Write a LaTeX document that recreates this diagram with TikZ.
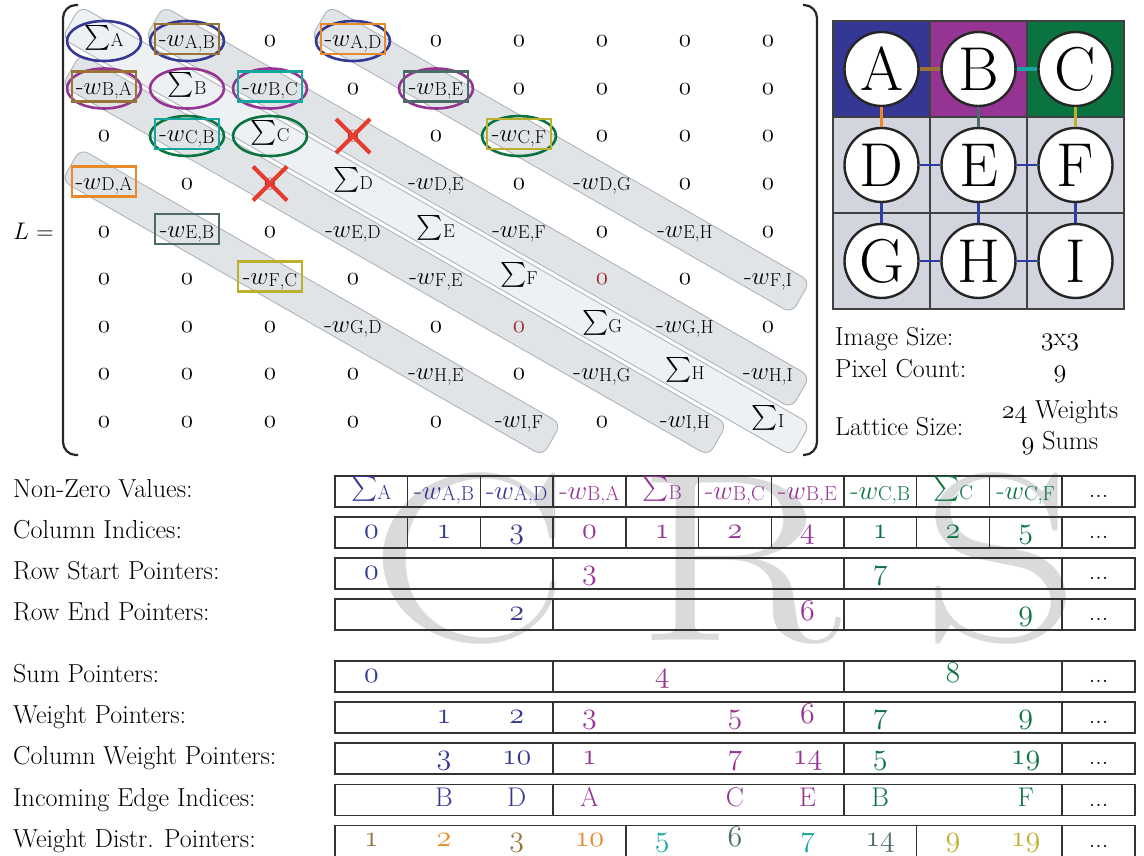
\documentclass[tikz,border=0pt]{standalone}
\usepackage{fix-cm}
\usepackage{amsmath}
\usepackage{graphicx}
\usepackage{xcolor}
\usetikzlibrary{calc,backgrounds}
\definecolor{blueA}{HTML}{343894}
\definecolor{purpB}{HTML}{963493}
\definecolor{greenC}{HTML}{0B7340}
\definecolor{cellgray}{HTML}{D2D5DD}
\definecolor{brownE}{HTML}{9A7436}
\definecolor{orangeE}{HTML}{E8892B}
\definecolor{tealE}{HTML}{17A69E}
\definecolor{slateE}{HTML}{4E6B6B}
\definecolor{oliveE}{HTML}{BDB02F}
\definecolor{blueE}{HTML}{2E3DA6}
\definecolor{xred}{HTML}{E63B2E}
\definecolor{zred}{HTML}{A32B2A}
\definecolor{bandD}{HTML}{E1E4E7}
\definecolor{bandL}{HTML}{EEF1F3}
\definecolor{bandedge}{HTML}{B0B4B9}
\definecolor{wmgray}{HTML}{D9DADC}
\newcommand{\os}[1]{{\usefont{OML}{cmm}{m}{it}#1}}
\newcommand{\zo}{\os{0}}
\newcommand{\zr}{{\color{zred}\os{0}}}
\newcommand{\sm}[1]{\raisebox{3pt}{$\sum$}\scalebox{.75}{#1}}
\newcommand{\wt}[2]{-$w$\raisebox{-1.5pt}{\scalebox{.75}{#1,#2}}}

\begin{document}
\begin{tikzpicture}[x=1pt, y=-1pt,
  ent/.style={anchor=base, inner sep=0pt, font=\fontsize{25}{30}\selectfont},
  band/.style={draw=bandedge, line width=0.9pt, rounded corners=9pt,
    minimum height=37pt, inner sep=0pt, rotate=-29.78},
  ring/.style={line width=2.6pt},
  frame/.style={line width=2.2pt},
  redx/.style={draw=xred, line width=4pt},
  brk/.style={draw=black!85, line width=2.2pt, rounded corners=13pt},
  pix/.style={draw=black!75, line width=1.2pt},
  vtx/.style={circle, draw=black!85, fill=white, line width=2.4pt,
    minimum size=74pt, inner sep=0pt, font=\fontsize{62}{62}\selectfont},
  link/.style={line width=3.6pt},
  lbl/.style={anchor=base west, inner sep=0pt, font=\fontsize{26}{30}\selectfont},
  val/.style={anchor=base, inner sep=0pt, font=\fontsize{30}{34}\selectfont},
  nzv/.style={anchor=base, inner sep=0pt, font=\fontsize{27}{30}\selectfont},
  tbl/.style={draw=black!80, line width=1.4pt},
  more/.style={anchor=base, inner sep=0pt, font=\fontsize{26}{30}\selectfont},
  wmark/.style={anchor=base, inner sep=0pt, text=wmgray, font=\fontsize{240}{240}\selectfont}
]
\useasboundingbox (0,0) rectangle (1144,856);

% Laplacian of the 3x3 lattice
\node[anchor=base west, inner sep=0pt, font=\fontsize{24}{28}\selectfont] (Leq) at (13,240) {$L$ =};
\foreach \rowlist [count=\r] in {
  {\sm{A},\wt{A}{B},\zo,\wt{A}{D},\zo,\zo,\zo,\zo,\zo},
  {\wt{B}{A},\sm{B},\wt{B}{C},\zo,\wt{B}{E},\zo,\zo,\zo,\zo},
  {\zo,\wt{C}{B},\sm{C},\zr,\zo,\wt{C}{F},\zo,\zo,\zo},
  {\wt{D}{A},\zo,\zr,\sm{D},\wt{D}{E},\zo,\wt{D}{G},\zo,\zo},
  {\zo,\wt{E}{B},\zo,\wt{E}{D},\sm{E},\wt{E}{F},\zo,\wt{E}{H},\zo},
  {\zo,\zo,\wt{F}{C},\zo,\wt{F}{E},\sm{F},\zr,\zo,\wt{F}{I}},
  {\zo,\zo,\zo,\wt{G}{D},\zo,\zr,\sm{G},\wt{G}{H},\zo},
  {\zo,\zo,\zo,\zo,\wt{H}{E},\zo,\wt{H}{G},\sm{H},\wt{H}{I}},
  {\zo,\zo,\zo,\zo,\zo,\wt{I}{F},\zo,\wt{I}{H},\sm{I}}}{
  \foreach \t [count=\c] in \rowlist
    \node[ent] (m\r-\c) at ({21+83*\c},{47+47.5*(\r-1)}) {\t};
}

% diagonal bands
\begin{scope}[on background layer]
  \foreach \a/\b/\len in {m1-2/m8-9/745, m2-1/m9-8/745, m1-4/m6-9/554, m4-1/m9-6/554}
    \node[band, fill=bandD, minimum width=\len pt] (b\a) at ($(\a.base)!.5!(\b.base)+(0,-6)$) {};
  \node[band, fill=bandL, minimum width=841pt] (bdiag) at ($(m1-1.base)!.5!(m9-9.base)+(0,-6)$) {};
\end{scope}

% rows of A, B, C and their edges
\foreach \n/\c in {m1-1/blueA, m1-2/blueA, m1-4/blueA, m2-1/purpB, m2-2/purpB, m2-3/purpB,
    m2-5/purpB, m3-2/greenC, m3-3/greenC, m3-6/greenC}
  \draw[ring, draw=\c] ($(\n.base)+(0,-6)$) ellipse [x radius=37, y radius=20];
\foreach \n/\c in {m1-2/brownE, m2-1/brownE, m1-4/orangeE, m4-1/orangeE, m2-3/tealE, m3-2/tealE,
    m2-5/slateE, m5-2/slateE, m3-6/oliveE, m6-3/oliveE}
  \draw[frame, draw=\c] ($(\n.base)+(-32,-23)$) rectangle ($(\n.base)+(32,7)$);
\foreach \n in {m3-4, m4-3}
  \draw[redx] ($(\n.base)+(-17,-23)$) -- ($(\n.base)+(17,11)$)
    ($(\n.base)+(17,-23)$) -- ($(\n.base)+(-17,11)$);

\draw[brk] (78,5) -| (63,455) -- (78,455);
\draw[brk] (803,5) -| (817,455) -- (803,455);

% image grid
\foreach \c/\col in {0/blueA, 1/purpB, 2/greenC}
  \draw[pix, fill=\col] ({833+97*\c},21) rectangle ++(97,96);
\foreach \r in {1,2}
  \foreach \c in {0,1,2}
    \draw[pix, fill=cellgray] ({833+97*\c},{21+96*\r}) rectangle ++(97,96);
\foreach \lab/\c/\r in {A/0/0, B/1/0, C/2/0, D/0/1, E/1/1, F/2/1, G/0/2, H/1/2, I/2/2}
  \node[vtx] (\lab) at ({881.5+97*\c},{69+96*\r}) {\lab};
\foreach \u/\v/\c in {A/B/brownE, B/C/tealE, A/D/orangeE, B/E/slateE, C/F/oliveE}
  \draw[link, draw=\c] (\u) -- (\v);
\foreach \u/\v in {D/E, E/F, D/G, E/H, F/I, G/H, H/I}
  \draw[link, draw=blueE, line width=2.4pt] (\u) -- (\v);

\node[lbl] (imgsz) at (835,345) {Image Size:};
\node[more] (imgv) at (1060,345) {\os{3}x\os{3}};
\node[lbl] (pixc) at (835,377) {Pixel Count:};
\node[more] (pixv) at (1060,377) {\os{9}};
\node[lbl] (latsz) at (835,435) {Lattice Size:};
\node[more] (latw) at (1060,418) {\os{24} Weights};
\node[more] (lats) at (1060,449) {\os{9} Sums};

% CRS arrays
\node[wmark] (wmC) at (470,640) {\scalebox{1.25}[1]{C}};
\node[wmark] (wmR) at (738,640) {\scalebox{1.25}[1]{R}};
\node[wmark] (wmS) at (1001,640) {\scalebox{1.3}[1]{S}};

\foreach \yc/\txt [count=\i] in {491.5/Non-Zero Values:, 532.5/Column Indices:,
    573.5/Row Start Pointers:, 614.5/Row End Pointers:, 676.5/Sum Pointers:,
    717.5/Weight Pointers:, 758.5/Column Weight Pointers:,
    800/Incoming Edge Indices:, 841/Weight Distr. Pointers:}
  \node[lbl] (lab\i) at (13,\yc+6) {\txt};

\foreach \yc/\cuts [count=\i] in {491.5/{1,2,3,4,5,6,7,8,9}, 532.5/{1,2,3,4,5,6,7,8,9},
    573.5/{3,7}, 614.5/{3,7}, 676.5/{3,7}, 717.5/{3,7}, 758.5/{3,7}, 800/{3,7}, 841/{4,8}}{
  \draw[tbl] (335,\yc-15.5) rectangle (1062,\yc+15.5);
  \foreach \k in \cuts
    \draw[tbl] ({335+72.7*\k},\yc-15.5) -- ++(0,31);
  \draw[tbl] (1062,\yc-15.5) rectangle (1135,\yc+15.5);
  \node[more] (dots\i) at (1098.5,\yc+6) {...};
}

\foreach \k/\t/\c in {1/\sm{A}/blueA, 2/\wt{A}{B}/blueA, 3/\wt{A}{D}/blueA,
    4/\wt{B}{A}/purpB, 5/\sm{B}/purpB, 6/\wt{B}{C}/purpB, 7/\wt{B}{E}/purpB,
    8/\wt{C}{B}/greenC, 9/\sm{C}/greenC, 10/\wt{C}{F}/greenC}
  \node[nzv, text=\c] (nz\k) at ({335+72.7*(\k-.5)},499) {\t};

\foreach \yb/\row [count=\i] in {
    538/{1/0/blueA, 2/1/blueA, 3/3/blueA, 4/0/purpB, 5/1/purpB, 6/2/purpB, 7/4/purpB, 8/1/greenC, 9/2/greenC, 10/5/greenC},
    579/{1/0/blueA, 4/3/purpB, 8/7/greenC},
    620/{3/2/blueA, 7/6/purpB, 10/9/greenC},
    682/{1/0/blueA, 5/4/purpB, 9/8/greenC},
    723/{2/1/blueA, 3/2/blueA, 4/3/purpB, 6/5/purpB, 7/6/purpB, 8/7/greenC, 10/9/greenC},
    764/{2/3/blueA, 3/10/blueA, 4/1/purpB, 6/7/purpB, 7/14/purpB, 8/5/greenC, 10/19/greenC},
    846/{1/1/brownE, 2/2/orangeE, 3/3/brownE, 4/10/orangeE, 5/5/tealE, 6/6/slateE, 7/7/tealE, 8/14/slateE, 9/9/oliveE, 10/19/oliveE}}{
  \foreach \k/\t/\c in \row
    \node[val, text=\c] (v\i-\k) at ({335+72.7*(\k-.5)},\yb) {\os{\t}};
}
\foreach \k/\t/\c in {2/B/blueA, 3/D/blueA, 4/A/purpB, 6/C/purpB, 7/E/purpB, 8/B/greenC, 10/F/greenC}
  \node[nzv, text=\c] (ie\k) at ({335+72.7*(\k-.5)},806) {\t};
\end{tikzpicture}
\end{document}
